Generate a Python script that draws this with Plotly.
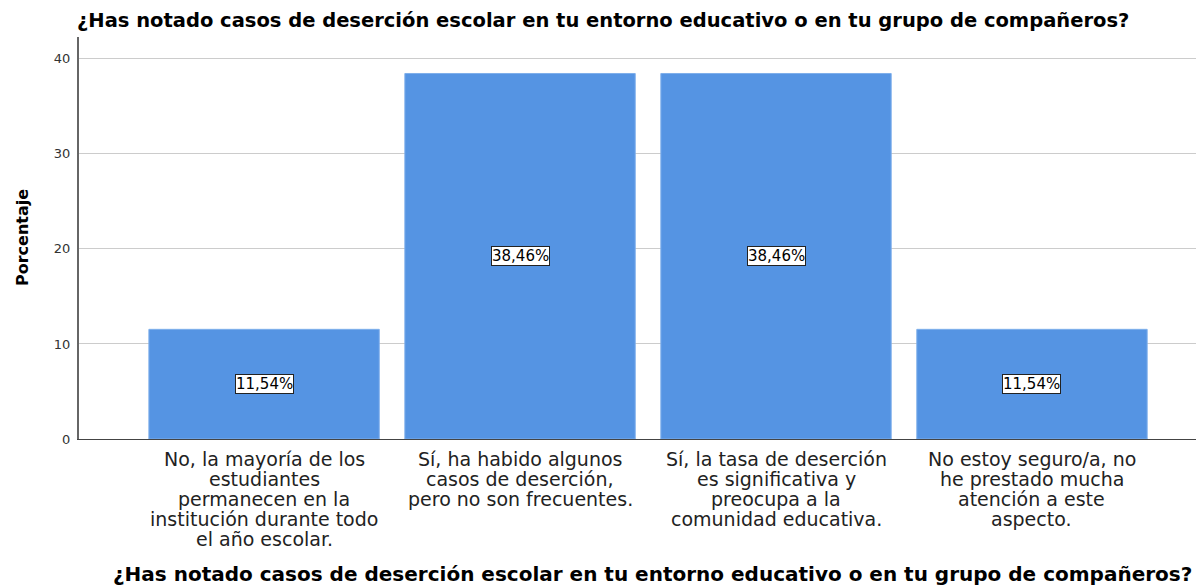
import plotly.graph_objects as go

categories = [
    "No, la mayoría de los estudiantes permanecen en la institución durante todo el año escolar.",
    "Sí, ha habido algunos casos de deserción, pero no son frecuentes.",
    "Sí, la tasa de deserción es significativa y preocupa a la comunidad educativa.",
    "No estoy seguro/a, no he prestado mucha atención a este aspecto.",
]
tick_lines = [
    ["No, la mayoría de los", "estudiantes", "permanecen en la", "institución durante todo", "el año escolar."],
    ["Sí, ha habido algunos", "casos de deserción,", "pero no son frecuentes."],
    ["Sí, la tasa de deserción", "es significativa y", "preocupa a la", "comunidad educativa."],
    ["No estoy seguro/a, no", "he prestado mucha", "atención a este", "aspecto."],
]
percentages = [11.54, 38.46, 38.46, 11.54]
value_labels = ["11,54%", "38,46%", "38,46%", "11,54%"]
y_ticks = [0, 10, 20, 30, 40]

title_text = "¿Has notado casos de deserción escolar en tu entorno educativo o en tu grupo de compañeros?"

xs = list(range(len(categories)))

fig = go.Figure()
fig.add_trace(go.Bar(
    x=xs, y=percentages,
    marker=dict(color="#5594E3", line=dict(color="#7FAFEB", width=1)),
    width=0.9,
    hoverinfo="skip",
))

annotations = []
for i, v in enumerate(percentages):
    annotations.append(dict(
        x=xs[i], y=v / 2, xref="x", yref="y", text=value_labels[i], showarrow=False,
        font=dict(family="DejaVu Sans", size=15, color="black"),
        bgcolor="white", bordercolor="#222222", borderwidth=1, borderpad=0,
    ))
for i, lines in enumerate(tick_lines):
    for j, line in enumerate(lines):
        annotations.append(dict(
            x=xs[i], y=0, xref="x", yref="paper", text=line, showarrow=False,
            yanchor="middle", yshift=-(20 + 20 * j),
            font=dict(family="DejaVu Sans", size=19, color="#222222"),
        ))
annotations.append(dict(
    x=0.5, y=1, xref="paper", yref="paper", text="<b>" + title_text + "</b>",
    showarrow=False, yanchor="middle", yshift=17, xshift=-39,
    font=dict(family="DejaVu Sans", size=19.5, color="black"),
))
annotations.append(dict(
    x=0.5, y=0, xref="paper", yref="paper", text="<b>" + title_text + "</b>",
    showarrow=False, yanchor="middle", yshift=-135, xshift=11,
    font=dict(family="DejaVu Sans", size=20, color="black"),
))
annotations.append(dict(
    x=0, y=0.5, xref="paper", yref="paper", text="<b>Porcentaje</b>",
    showarrow=False, textangle=-90, xanchor="center", yanchor="middle", xshift=-57,
    yshift=(439 - 37) / 2 - (238 - 37),
    font=dict(family="DejaVu Sans", size=16, color="black"),
))

fig.update_layout(
    width=1196, height=577,
    margin=dict(l=71, r=0, t=29, b=146, pad=0),
    plot_bgcolor="white", paper_bgcolor="white",
    showlegend=False,
    bargap=0.1,
    annotations=annotations,
    xaxis=dict(
        range=[-0.723, 3.672], showticklabels=False, showgrid=False, zeroline=False,
        showline=True, linecolor="#444444", linewidth=1, ticks="", fixedrange=True,
    ),
    yaxis=dict(
        range=[0, 42.3], tickvals=y_ticks, ticktext=[str(t) for t in y_ticks],
        showgrid=True, gridcolor="#CCCCCC", gridwidth=1, zeroline=False,
        showline=True, linecolor="#666666", linewidth=2,
        ticks="", ticklabelstandoff=4,
        tickfont=dict(family="DejaVu Sans", size=13, color="#333333"),
    ),
)

fig.write_html("out.html")
